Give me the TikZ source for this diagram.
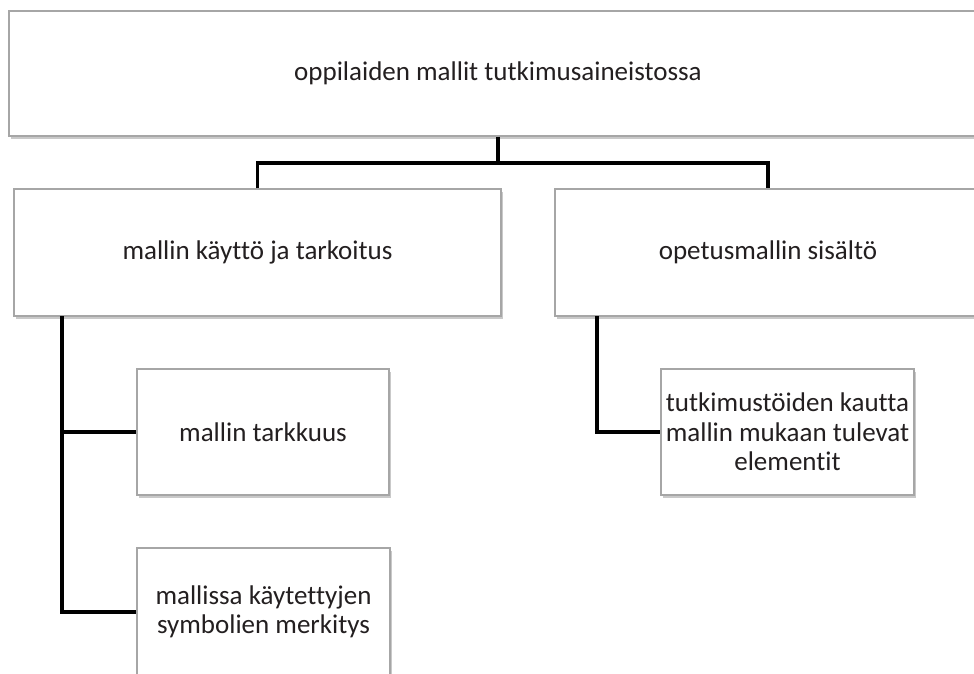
\documentclass[tikz,border=0pt]{standalone}
\usepackage{fontspec}
\setmainfont{Carlito}[Ligatures=NoCommon]
\usetikzlibrary{shadows}
\definecolor{boxline}{HTML}{A6A6A6}
\definecolor{txt}{HTML}{231F20}
\begin{document}
\begin{tikzpicture}[x=1pt,y=-1pt,
  box/.style={draw=boxline, line width=1.2pt, fill=white, rectangle, inner sep=0pt,
    align=center, text=txt, font=\fontsize{27}{29.5}\selectfont,
    drop shadow={shadow xshift=1.5pt, shadow yshift=-3pt, opacity=0.35, fill=black!60}},
  conn/.style={line width=3.6pt, draw=black, line join=miter}]
\clip (0,0) rectangle (974,673);
\fill[white] (0,0) rectangle (974,673);
\node[box, minimum width=978pt, minimum height=125pt] (top) at (498,73.5) {oppilaiden mallit tutkimusaineistossa};
\node[box, minimum width=487pt, minimum height=127pt] (a) at (257.5,252.5) {mallin käyttö ja tarkoitus};
\node[box, minimum width=426pt, minimum height=127pt] (b) at (768,252.5) {opetusmallin sisältö};
\node[box, minimum width=252pt, minimum height=126pt] (a1) at (263,432) {mallin tarkkuus};
\node[box, minimum width=253pt, minimum height=128pt] (a2) at (263.5,612) {mallissa käytettyjen\\symbolien merkitys};
\node[box, minimum width=253pt, minimum height=126pt] (b1) at (787.5,432) {tutkimustöiden kautta\\mallin mukaan tulevat\\elementit};
\coordinate (j) at (498,163);
\coordinate (at) at (62,316);
\coordinate (bt) at (597,316);
\draw[conn] (top.south) -- (j);
\draw[conn] (a.north) |- (j) -| (b.north);
\draw[conn] (at) |- (a1.west);
\draw[conn] (at) |- (a2.west);
\draw[conn] (bt) |- (b1.west);
\end{tikzpicture}
\end{document}
